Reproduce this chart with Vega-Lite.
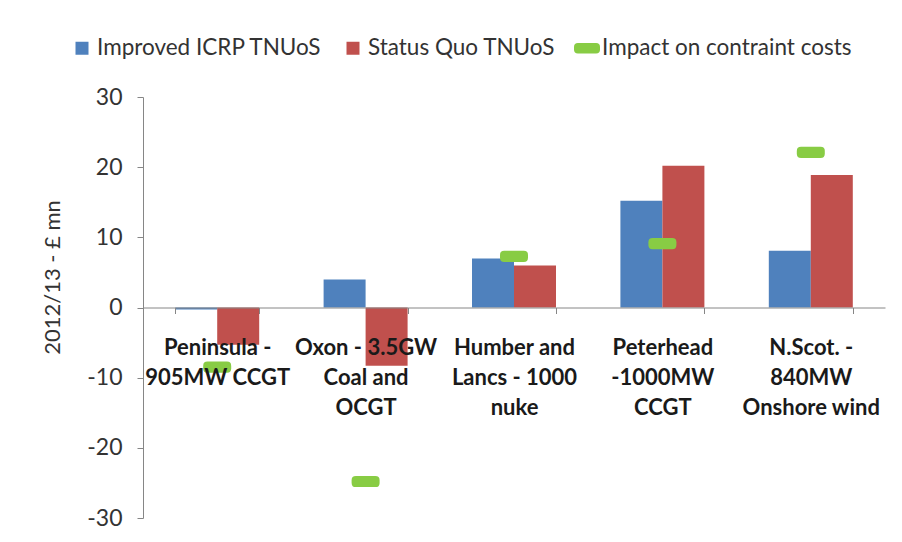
{
  "$schema": "https://vega.github.io/schema/vega-lite/v6.json",
  "autosize": {"type": "none"},
  "width": 742,
  "height": 421,
  "padding": {"left": 143, "top": 97, "right": 17, "bottom": 24},
  "background": "white",
  "config": {
    "view": {"stroke": null},
    "font": "Lato",
    "axis": {"grid": false, "domainColor": "#868686", "tickColor": "#868686", "labelFont": "Lato", "titleFont": "Lato"},
    "legend": {
      "title": null,
      "orient": "none",
      "direction": "horizontal",
      "legendX": -74,
      "legendY": -62,
      "symbolSize": 676,
      "symbolStrokeWidth": 0,
      "labelFontSize": 22.5,
      "labelFont": "Lato",
      "labelColor": "#333333",
      "labelOffset": 2,
      "columnPadding": 18,
      "labelLimit": 400
    }
  },
  "data": {
    "values": [
      {"category": "Peninsula -|905MW CCGT", "series": "Improved ICRP TNUoS", "value": -0.3},
      {"category": "Peninsula -|905MW CCGT", "series": "Status Quo TNUoS", "value": -5.3},
      {"category": "Peninsula -|905MW CCGT", "series": "Impact on contraint costs", "value": -8.5},
      {"category": "Oxon - 3.5GW|Coal and|OCGT", "series": "Improved ICRP TNUoS", "value": 4.0},
      {"category": "Oxon - 3.5GW|Coal and|OCGT", "series": "Status Quo TNUoS", "value": -8.3},
      {"category": "Oxon - 3.5GW|Coal and|OCGT", "series": "Impact on contraint costs", "value": -24.8},
      {"category": "Humber and|Lancs - 1000|nuke", "series": "Improved ICRP TNUoS", "value": 7.0},
      {"category": "Humber and|Lancs - 1000|nuke", "series": "Status Quo TNUoS", "value": 6.0},
      {"category": "Humber and|Lancs - 1000|nuke", "series": "Impact on contraint costs", "value": 7.3},
      {"category": "Peterhead|-1000MW|CCGT", "series": "Improved ICRP TNUoS", "value": 15.2},
      {"category": "Peterhead|-1000MW|CCGT", "series": "Status Quo TNUoS", "value": 20.2},
      {"category": "Peterhead|-1000MW|CCGT", "series": "Impact on contraint costs", "value": 9.1},
      {"category": "N.Scot. -|840MW|Onshore wind", "series": "Improved ICRP TNUoS", "value": 8.1},
      {"category": "N.Scot. -|840MW|Onshore wind", "series": "Status Quo TNUoS", "value": 18.9},
      {"category": "N.Scot. -|840MW|Onshore wind", "series": "Impact on contraint costs", "value": 22.1}
    ]
  },
  "encoding": {
    "x": {
      "field": "category",
      "type": "nominal",
      "sort": null,
      "scale": {"paddingInner": 0.434, "paddingOuter": 0.217},
      "axis": {
        "title": null,
        "labelAngle": 0,
        "offset": -210.5,
        "zindex": 1,
        "tickBand": "extent",
        "tickSize": 6,
        "labelPadding": 24,
        "labelFontSize": 22,
        "labelFontWeight": "bold",
        "labelColor": "#1a1a1a",
        "labelLineHeight": 30,
        "labelExpr": "split(datum.label, '|')",
        "labelLimit": 200
      }
    },
    "y": {
      "field": "value",
      "type": "quantitative",
      "scale": {"domain": [-30, 30], "nice": false},
      "axis": {
        "title": "2012/13 - £ mn",
        "values": [-30, -20, -10, 0, 10, 20, 30],
        "labelExpr": "datum.value < 0 ? '-' + abs(datum.value) : '' + datum.value",
        "tickSize": 6,
        "labelPadding": 15,
        "labelFontSize": 23,
        "labelColor": "#333333",
        "titleFontSize": 22,
        "titleFontWeight": "normal",
        "titleColor": "#333333",
        "titleX": -91,
        "titleY": 180,
        "titleAngle": -90,
        "titleBaseline": "middle",
        "titleAlign": "center"
      }
    }
  },
  "layer": [
    {
      "transform": [{"filter": "datum.series !== 'Impact on contraint costs'"}],
      "mark": {"type": "bar"},
      "encoding": {
        "xOffset": {"field": "series", "type": "nominal", "sort": ["Improved ICRP TNUoS", "Status Quo TNUoS"], "scale": {"paddingInner": 0, "paddingOuter": 0}},
        "color": {
          "field": "series",
          "type": "nominal",
          "scale": {"domain": ["Improved ICRP TNUoS", "Status Quo TNUoS", "Impact on contraint costs"], "range": ["#4F81BD", "#C0504D", "#88CC44"]}
        }
      }
    },
    {
      "transform": [{"filter": "datum.series === 'Impact on contraint costs'"}],
      "mark": {"type": "point", "filled": true, "opacity": 1, "size": 784},
      "encoding": {
        "color": {
          "field": "series",
          "type": "nominal",
          "scale": {"domain": ["Improved ICRP TNUoS", "Status Quo TNUoS", "Impact on contraint costs"], "range": ["#4F81BD", "#C0504D", "#88CC44"]}
        },
        "shape": {
          "field": "series",
          "type": "nominal",
          "scale": {
            "domain": ["Improved ICRP TNUoS", "Status Quo TNUoS", "Impact on contraint costs"],
            "range": ["M-0.5,-0.5H0.5V0.5H-0.5Z", "M-0.5,-0.5H0.5V0.5H-0.5Z", "M-0.7,-0.4H0.7Q1,-0.4 1,-0.1V0.1Q1,0.4 0.7,0.4H-0.7Q-1,0.4 -1,0.1V-0.1Q-1,-0.4 -0.7,-0.4Z"]
          }
        }
      }
    }
  ]
}
